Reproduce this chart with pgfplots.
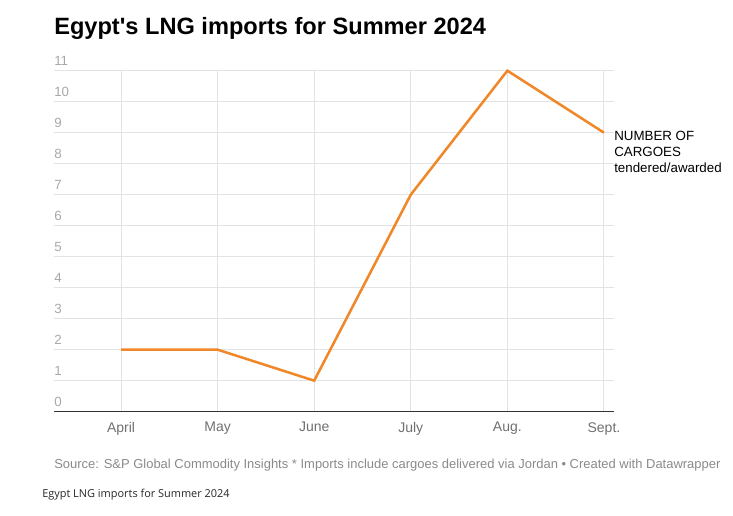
\documentclass[border=0pt]{standalone}
\usepackage{fontspec}
\setmainfont{Liberation Sans}
\newfontfamily\capfont{Open Sans}
\usepackage{pgfplots}
\pgfplotsset{compat=1.18}
\definecolor{lineorange}{HTML}{F0882A}
\definecolor{gridgray}{HTML}{E3E3E3}
\definecolor{ylabgray}{HTML}{A8A8A8}
\definecolor{xlabgray}{HTML}{707070}
\definecolor{notegray}{HTML}{8A8A8A}
\begin{document}
\begin{tikzpicture}
% page frame: 733x515 px at 0.75pt per px
\path[use as bounding box] (0,0) rectangle (549.75pt,386.25pt);
\begin{axis}[at={(40.5pt,77.5pt)}, anchor=south west,
  scale only axis, width=420pt, height=255.75pt,
  xmin=-0.694, xmax=5.104, ymin=0, ymax=11,
  xtick={0,...,5}, xticklabels={April,May,June,July,Aug.,Sept.},
  ytick={0,...,11},
  axis line style={draw=none},
  major tick length=0pt,
  grid=major, major grid style={gridgray, line width=0.75pt},
  /pgf/number format/assume math mode=true,
  yticklabel style={anchor=south west, inner sep=0pt, yshift=3.8pt, font=\fontsize{10}{12}\selectfont, color=ylabgray},
  xticklabel style={anchor=north, inner sep=0pt, yshift=-7.8pt, font=\fontsize{10.5}{12}\selectfont, color=xlabgray},
  clip=false]
\draw[color=black!80, line width=1.1pt] (axis cs:-0.694,0) -- (axis cs:5.104,0);
% number of LNG cargoes tendered/awarded
\addplot[lineorange, line width=1.9pt, mark=none] coordinates {
(0,2) (1,2) (2,1) (3,7) (4,11) (5,9)
};
\end{axis}
\node[anchor=west, inner sep=0pt, font=\bfseries\fontsize{17.7}{20}\selectfont] at (40.5pt,365.25pt) {Egypt\textquotesingle s LNG imports for Summer 2024};
\node[anchor=north west, inner sep=0pt, align=left, font=\fontsize{10}{12}\selectfont] at (460.5pt,288.4pt) {NUMBER OF\\CARGOES\\tendered/awarded};
\node[anchor=west, inner sep=0pt, color=notegray, font=\fontsize{9.73}{11}\selectfont] at (40.5pt,37.5pt) {Source: S\&P Global Commodity Insights * Imports include cargoes delivered via Jordan • Created with Datawrapper};
\node[anchor=west, inner sep=0pt, color=black!85, font=\capfont\fontsize{8.2}{10}\selectfont] at (31.5pt,15pt) {Egypt LNG imports for Summer 2024};
\end{tikzpicture}
\end{document}
